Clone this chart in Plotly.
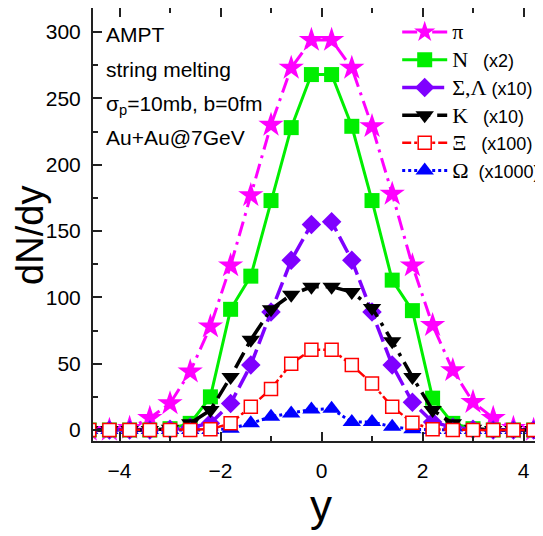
import plotly.graph_objects as go

# rapidity bins
y_vals = [-4.6, -4.2, -3.8, -3.4, -3.0, -2.6, -2.2, -1.8, -1.4, -1.0, -0.6, -0.2,
          0.2, 0.6, 1.0, 1.4, 1.8, 2.2, 2.6, 3.0, 3.4, 3.8, 4.2, 4.6]

pion = [0, 0, 1.5, 9, 20, 44, 78, 124, 177, 230, 273, 294,
        294, 273, 229, 178, 124, 79, 45, 21, 9, 1.5, 0, 0]
nucleon_x2 = [0, 0, 0, 0, 1, 5, 25, 91, 116, 173, 228, 268,
              268, 229, 173, 113, 90, 24, 5, 1, 0, 0, 0, 0]
sigma_lambda_x10 = [0, 0, 0, 0, 0.5, 2, 5, 20, 49, 89, 128, 155,
                    157, 128, 89, 49, 21, 6, 2, 0.5, 0, 0, 0, 0]
kaon_x10 = [0, 0, 0, 0, 1, 5, 15, 40, 68, 91, 102, 108,
            108, 104, 92, 67, 40, 15, 5, 1, 0, 0, 0, 0]
xi_x100 = [0, 0, 0, 0, 0, 0, 0.5, 5, 17.5, 31, 50, 60.5,
           60.5, 49, 35, 17.5, 5.5, 0.5, 0, 0, 0, 0, 0, 0]
omega_x1000 = [0, 0, 0, 0, 0, 0, 0, 1, 5, 10, 12.5, 15.5,
               16, 6, 6, 2.5, 0.5, 0, 0, 0, 0, 0, 0, 0]

annot_lines = ["AMPT", "string melting", "σ<sub>p</sub>=10mb, b=0fm", "Au+Au@7GeV"]

NB = "\u00a0"
def nm(greek, scale, pad):
    s = '<span style="font-family:Liberation Serif;font-size:22px">' + greek + '</span>'
    if scale:
        s += '<span style="font-size:18px">' + NB * pad + scale + '</span>'
    return s

SANS = "Liberation Sans, Arial"

series = [
    # (name, data, color, symbol, size, dash, width, fill, rank)
    (nm("π", "", 0), pion, "#ff00ff", "star", 19, "longdashdot", 3, "#ff00ff", 1),
    (nm("N", "(x2)", 3), nucleon_x2, "#00ee00", "square", 15, "solid", 3, "#00ee00", 2),
    (nm("Σ,Λ", "(x10)", 1), sigma_lambda_x10, "#7f00ff", "diamond", 15, "18px,6px", 3.5, "#7f00ff", 3),
    (nm("K", "(x10)", 3), kaon_x10, "#000000", "triangle-down", 16, "longdashdot", 3.5, "#000000", 4),
    (nm("Ω", "(x1000)", 2), omega_x1000, "#0000ff", "triangle-up", 16, "dot", 3, "#0000ff", 6),
    (nm("Ξ", "(x100)", 3), xi_x100, "#ff0000", "square", 13, "dashdot", 2.5, "#ffffff", 5),
]

fig = go.Figure()
for name, data, color, sym, size, dash, width, fill, rank in series:
    fig.add_trace(go.Scatter(
        x=y_vals, y=data, name=name, mode="lines+markers",
        line=dict(color=color, width=width, dash=dash),
        marker=dict(symbol=sym, size=size, color=fill,
                    line=dict(color=color, width=1.5 if fill == "#ffffff" else 0)),
        legendrank=rank,
    ))

ann = []
ys = [0.938, 0.857, 0.776, 0.700]
for t, yy in zip(annot_lines, ys):
    ann.append(dict(text=t, x=0.024, y=yy, xref="paper", yref="paper",
                    xanchor="left", yanchor="middle", showarrow=False,
                    font=dict(family=SANS, size=21, color="black")))
ann.append(dict(text="dN/dy", x=-0.14, y=0.476, xref="paper", yref="paper",
                textangle=-90, showarrow=False, xanchor="center", yanchor="middle",
                font=dict(family=SANS, size=38, color="black")))
ann.append(dict(text="y", x=0.507, y=-0.15, xref="paper", yref="paper",
                showarrow=False, xanchor="center", yanchor="middle",
                font=dict(family=SANS, size=44, color="black")))

fig.update_layout(
    width=535, height=528,
    margin=dict(l=85, r=0, t=0, b=95, autoexpand=False),
    paper_bgcolor="white", plot_bgcolor="white",
    showlegend=True,
    legend=dict(x=0.676, y=0.988, xanchor="left", yanchor="top",
                bgcolor="rgba(0,0,0,0)", borderwidth=0, itemwidth=45,
                font=dict(family=SANS, size=19, color="black")),
    annotations=ann,
    xaxis=dict(range=[-4.525, 4.386], showgrid=False, zeroline=False,
               showline=True, linecolor="#222", linewidth=2, mirror="ticks",
               ticks="inside", ticklen=9, tickwidth=2, tickcolor="#222",
               tick0=0, dtick=2, ticklabelstandoff=10,
               minor=dict(ticks="inside", ticklen=5, tickwidth=2, tickcolor="#222", dtick=1),
               tickfont=dict(family=SANS, size=21, color="black")),
    yaxis=dict(range=[-8.3, 318.2], showgrid=False, zeroline=False,
               showline=True, linecolor="#222", linewidth=2, mirror=False,
               ticks="inside", ticklen=9, tickwidth=2, tickcolor="#222",
               tick0=0, dtick=50, ticklabelstandoff=6,
               minor=dict(ticks="inside", ticklen=5, tickwidth=2, tickcolor="#222", dtick=25),
               tickfont=dict(family=SANS, size=21, color="black")),
)

fig.write_html("out.html")
